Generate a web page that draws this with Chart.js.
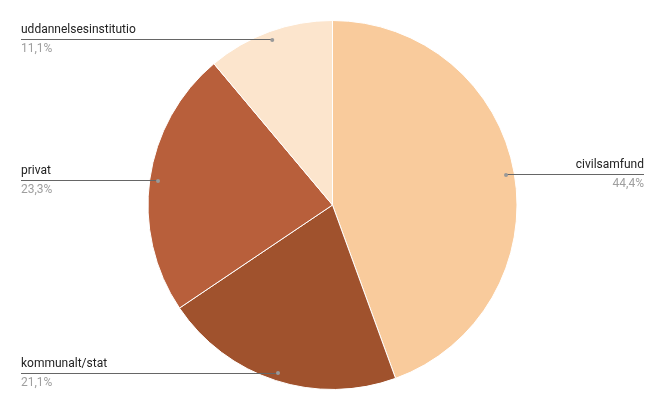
<!DOCTYPE html>
<html>
<head>
<meta charset="utf-8">
<script src="https://cdn.jsdelivr.net/npm/chart.js@4"></script>
<style>
  html, body { margin: 0; padding: 0; background: #fff; }
  #wrap { width: 665px; height: 411px; position: relative; }
</style>
</head>
<body>
<div id="wrap"><canvas id="myChart"></canvas></div>
<script>
const labels = ['civilsamfund', 'kommunalt/stat', 'privat', 'uddannelsesinstitutio'];
const values = [44.4, 21.1, 23.3, 11.1];
const pctLabels = ['44,4%', '21,1%', '23,3%', '11,1%'];
const colors = ['#F9CB9C', '#A0522D', '#B85F3B', '#FCE5CD'];

// leader lines + labels like the original sheet chart
const calloutPlugin = {
    id: 'callouts',
    afterDatasetsDraw(chart) {
        const c = chart.ctx;
        const meta = chart.getDatasetMeta(0);
        c.save();
        meta.data.forEach((arc, i) => {
            const p = arc.getProps(['x', 'y', 'startAngle', 'endAngle', 'outerRadius'], true);
            const mid = (p.startAngle + p.endAngle) / 2;
            const r = p.outerRadius * 0.955;
            const dx = p.x + Math.cos(mid) * r;
            const dy = p.y + Math.sin(mid) * r;
            const right = Math.cos(mid) > 0;
            const lineEnd = right ? 644 : 21;

            c.strokeStyle = '#666';
            c.lineWidth = 1;
            c.beginPath();
            c.moveTo(Math.round(dx), Math.round(dy) + 0.5);
            c.lineTo(lineEnd, Math.round(dy) + 0.5);
            c.stroke();

            c.fillStyle = '#999';
            c.beginPath();
            c.arc(dx, dy + 0.5, 2, 0, Math.PI * 2);
            c.fill();

            c.textAlign = right ? 'right' : 'left';
            c.textBaseline = 'middle';
            c.font = '12px Roboto';
            c.fillStyle = '#222';
            c.fillText(labels[i], lineEnd, dy - 9);
            c.fillStyle = '#9e9e9e';
            c.fillText(pctLabels[i], lineEnd, dy + 10);
        });
        c.restore();
    }
};

const ctx = document.getElementById('myChart').getContext('2d');
const myChart = new Chart(ctx, {
    type: 'pie',
    data: {
        labels: labels,
        datasets: [{
            data: values,
            backgroundColor: colors,
            borderColor: '#fff',
            borderWidth: 1
        }]
    },
    options: {
        responsive: true,
        maintainAspectRatio: false,
        animation: false,
        layout: { padding: { top: 20, bottom: 21 } },
        plugins: {
            legend: { display: false },
            tooltip: { enabled: false }
        }
    },
    plugins: [calloutPlugin]
});
</script>
</body>
</html>
